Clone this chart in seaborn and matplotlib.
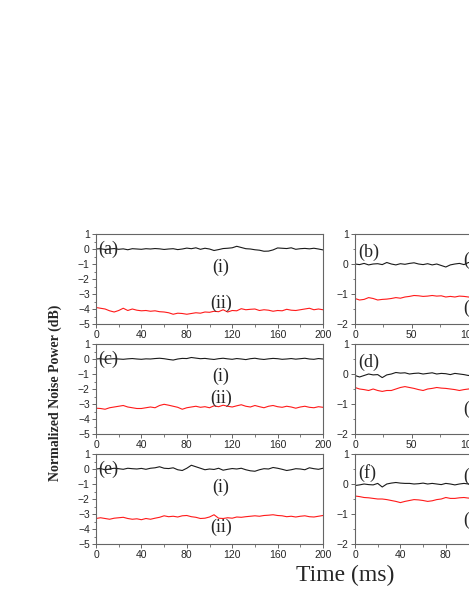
import numpy as np
import pandas as pd
import matplotlib
matplotlib.use("Agg")
import matplotlib.pyplot as plt
from matplotlib.ticker import MultipleLocator
import seaborn as sns

# ---------------- data ----------------
t_left = list(range(0, 201, 4))      # ms
t_right = list(range(0, 121, 4))     # ms (visible part of right column)

a_i = [0.0, 0.02, -0.03, 0.0, 0.03, -0.02, 0.01, -0.05, 0.02, 0.0, -0.02, 0.02, 0.0,
       0.03, 0.01, -0.03, 0.0, 0.02, -0.04, 0.0, 0.06, 0.02, 0.08, -0.02, 0.05, 0.0,
       -0.1, -0.04, 0.03, 0.05, 0.08, 0.18, 0.1, 0.02, 0.0, -0.05, -0.08, -0.15, -0.14,
       -0.06, 0.07, 0.05, 0.03, 0.08, -0.02, 0.02, 0.04, 0.01, 0.05, 0.0, -0.06]
a_ii = [-3.9, -3.95, -4.0, -4.12, -4.2, -4.1, -3.95, -4.1, -4.0, -4.08, -4.12, -4.1, -4.15,
        -4.12, -4.18, -4.2, -4.25, -4.35, -4.28, -4.3, -4.35, -4.3, -4.25, -4.28, -4.2,
        -4.22, -4.15, -4.18, -4.05, -4.2, -4.1, -4.12, -3.98, -4.05, -4.02, -4.0, -4.1,
        -4.05, -4.08, -4.15, -4.1, -4.12, -4.02, -4.08, -4.1, -4.05, -4.0, -3.95, -4.05,
        -4.0, -4.05]

c_i = [0.0, 0.02, -0.02, 0.0, 0.02, 0.0, -0.02, 0.01, 0.03, 0.0, -0.02, 0.01, 0.0,
       0.03, 0.05, 0.02, -0.03, -0.07, 0.0, 0.04, 0.03, 0.1, 0.06, 0.02, 0.04, 0.0,
       -0.03, 0.02, 0.05, 0.01, -0.02, 0.03, 0.0, -0.04, 0.02, 0.05, 0.0, -0.03, 0.01,
       0.04, 0.02, -0.02, 0.0, 0.03, -0.01, 0.02, 0.05, 0.0, -0.02, 0.03, 0.0]
c_ii = [-3.28, -3.3, -3.35, -3.25, -3.2, -3.15, -3.1, -3.2, -3.25, -3.3, -3.3, -3.25,
        -3.2, -3.25, -3.1, -3.02, -3.08, -3.15, -3.22, -3.35, -3.25, -3.2, -3.15, -3.22,
        -3.18, -3.25, -3.12, -3.18, -3.08, -3.15, -3.2, -3.12, -3.05, -3.15, -3.2, -3.1,
        -3.18, -3.25, -3.15, -3.1, -3.18, -3.22, -3.15, -3.2, -3.28, -3.2, -3.15, -3.22,
        -3.25, -3.18, -3.22]

e_i = [0.0, 0.03, -0.05, 0.0, 0.05, 0.02, -0.02, 0.05, 0.02, 0.0, 0.04, -0.02, 0.05,
       0.08, 0.15, 0.05, 0.03, 0.08, -0.05, -0.1, 0.05, 0.25, 0.15, 0.05, -0.05, 0.0,
       -0.03, 0.05, -0.08, -0.02, 0.03, 0.0, 0.05, -0.05, -0.12, -0.15, -0.05, 0.02, 0.0,
       0.1, 0.05, -0.02, -0.1, -0.05, 0.02, 0.0, -0.05, 0.08, 0.02, -0.02, 0.05]
e_ii = [-3.3, -3.25, -3.3, -3.35, -3.28, -3.25, -3.22, -3.3, -3.35, -3.32, -3.38, -3.3,
        -3.35, -3.28, -3.22, -3.12, -3.18, -3.15, -3.2, -3.12, -3.1, -3.18, -3.22, -3.3,
        -3.28, -3.2, -3.05, -3.28, -3.3, -3.25, -3.28, -3.2, -3.22, -3.18, -3.15, -3.12,
        -3.15, -3.1, -3.08, -3.05, -3.1, -3.12, -3.18, -3.15, -3.2, -3.15, -3.12, -3.18,
        -3.2, -3.15, -3.1]

b_i = [0.0, -0.02, 0.02, -0.03, 0.0, 0.01, -0.02, 0.05, 0.0, -0.03, 0.01, -0.01, 0.02,
       0.04, 0.0, -0.02, 0.01, -0.03, 0.0, -0.05, -0.1, -0.03, 0.0, 0.02, -0.02, 0.05,
       0.03, 0.0, 0.02, 0.05, 0.03]
b_ii = [-1.15, -1.2, -1.18, -1.12, -1.15, -1.2, -1.18, -1.17, -1.15, -1.12, -1.14,
        -1.1, -1.08, -1.05, -1.06, -1.08, -1.07, -1.05, -1.07, -1.06, -1.1, -1.08,
        -1.1, -1.07, -1.08, -1.1, -1.12, -1.1, -1.08, -1.1, -1.12]

d_i = [-0.05, -0.1, -0.05, 0.0, -0.03, -0.02, -0.12, -0.03, 0.0, 0.05, 0.03, 0.04, 0.0,
       0.02, 0.03, 0.0, 0.02, 0.04, 0.0, 0.02, 0.01, -0.02, 0.02, 0.0, -0.02, -0.05,
       -0.02, 0.0, -0.03, 0.01, -0.02]
d_ii = [-0.45, -0.5, -0.52, -0.55, -0.5, -0.55, -0.58, -0.55, -0.55, -0.5, -0.45,
        -0.42, -0.45, -0.48, -0.52, -0.55, -0.5, -0.48, -0.45, -0.47, -0.48, -0.5,
        -0.52, -0.55, -0.52, -0.5, -0.48, -0.52, -0.5, -0.48, -0.5]

f_i = [-0.05, -0.03, 0.0, -0.02, -0.03, 0.02, -0.1, 0.0, 0.03, 0.05, 0.03, 0.02, 0.02,
       0.0, 0.01, 0.03, 0.0, 0.02, 0.0, -0.02, 0.02, 0.0, -0.03, 0.0, 0.02, 0.0, -0.02,
       0.01, 0.0, -0.02, 0.0]
f_ii = [-0.4, -0.42, -0.45, -0.46, -0.48, -0.5, -0.5, -0.52, -0.55, -0.58, -0.62,
        -0.58, -0.55, -0.52, -0.53, -0.55, -0.58, -0.56, -0.52, -0.5, -0.45, -0.48,
        -0.48, -0.46, -0.45, -0.47, -0.45, -0.48, -0.46, -0.45, -0.47]

panel_letters = ["(a)", "(b)", "(c)", "(d)", "(e)", "(f)"]
curve_labels = ["(i)", "(ii)"]
xlabel = "Time (ms)"
ylabel = "Normalized Noise Power (dB)"

# ---------------- style ----------------
sns.set_style("ticks")
plt.rcParams["font.family"] = ["Liberation Sans", "DejaVu Sans"]
SERIF = ["Liberation Serif", "DejaVu Serif"]

W, H = 469, 607
fig = plt.figure(figsize=(W / 100, H / 100), dpi=100)

left_x, right_x, ax_w, ax_h = 96, 355, 227, 90
tops = [234, 344, 454]

def make_ax(xpx, top):
    return fig.add_axes([xpx / W, 1 - (top + ax_h) / H, ax_w / W, ax_h / H])

spine_col = "#666666"

def style(ax, ylim, ymaj, xmaj, xmin):
    ax.set_xlim(0, 200)
    ax.set_ylim(*ylim)
    ax.xaxis.set_major_locator(MultipleLocator(xmaj))
    ax.xaxis.set_minor_locator(MultipleLocator(xmin))
    ax.yaxis.set_major_locator(MultipleLocator(ymaj))
    ax.yaxis.set_minor_locator(MultipleLocator(ymaj / 2))
    for s in ax.spines.values():
        s.set_color(spine_col)
        s.set_linewidth(0.8)
    ax.tick_params(axis="both", which="major", length=3, width=0.7, color=spine_col,
                   labelsize=7.5, pad=1.5, direction="out")
    ax.tick_params(axis="both", which="minor", length=1.8, width=0.6, color=spine_col,
                   direction="out")
    ax.set_xlabel("")
    ax.set_ylabel("")

def draw(ax, t, yi, yii):
    df = pd.DataFrame({"t": t, "i": yi, "ii": yii})
    sns.lineplot(data=df, x="t", y="i", ax=ax, color="#1a1a1a", lw=0.8)
    sns.lineplot(data=df, x="t", y="ii", ax=ax, color="#ff1a1a", lw=0.8)

left_data = [(a_i, a_ii), (c_i, c_ii), (e_i, e_ii)]
right_data = [(b_i, b_ii), (d_i, d_ii), (f_i, f_ii)]
right_xmaj = [(50, 25), (50, 25), (40, 20)]

# label positions (data coords)
left_lab = [((110, -1.2), (110, -3.6)), ((110, -1.15), (110, -2.6)), ((110, -1.2), (110, -3.9))]
right_lab = [((95, 0.13), (95, -1.47)), ((95, 0.45), (95, -1.17)), ((95, 0.27), (95, -1.2))]

for r in range(3):
    ax = make_ax(left_x, tops[r])
    draw(ax, t_left, *left_data[r])
    style(ax, (-5, 1), 1, 40, 20)
    ax.text(2, 0.0, panel_letters[2 * r], family=SERIF, fontsize=13, ha="left", va="center")
    (x1, y1), (x2, y2) = left_lab[r]
    ax.text(x1, y1, curve_labels[0], family=SERIF, fontsize=13, ha="center", va="center")
    ax.text(x2, y2, curve_labels[1], family=SERIF, fontsize=13, ha="center", va="center")

    ax2 = make_ax(right_x, tops[r])
    draw(ax2, t_right, *right_data[r])
    style(ax2, (-2, 1), 1, *right_xmaj[r])
    ax2.text(3, 0.38, panel_letters[2 * r + 1], family=SERIF, fontsize=13, ha="left", va="center")
    (x1, y1), (x2, y2) = right_lab[r]
    if r != 1:
        ax2.text(x1, y1, curve_labels[0], family=SERIF, fontsize=13, ha="left", va="center")
    ax2.text(x2, y2, curve_labels[1], family=SERIF, fontsize=13, ha="left", va="center")

fig.text(55 / W, 1 - 393 / H, ylabel, family=SERIF, fontsize=10, fontweight="bold",
         rotation=90, ha="center", va="center")
fig.text(345 / W, 1 - 575 / H, xlabel, family=SERIF, fontsize=17, ha="center", va="center")

fig.savefig("out.png", dpi=100)
